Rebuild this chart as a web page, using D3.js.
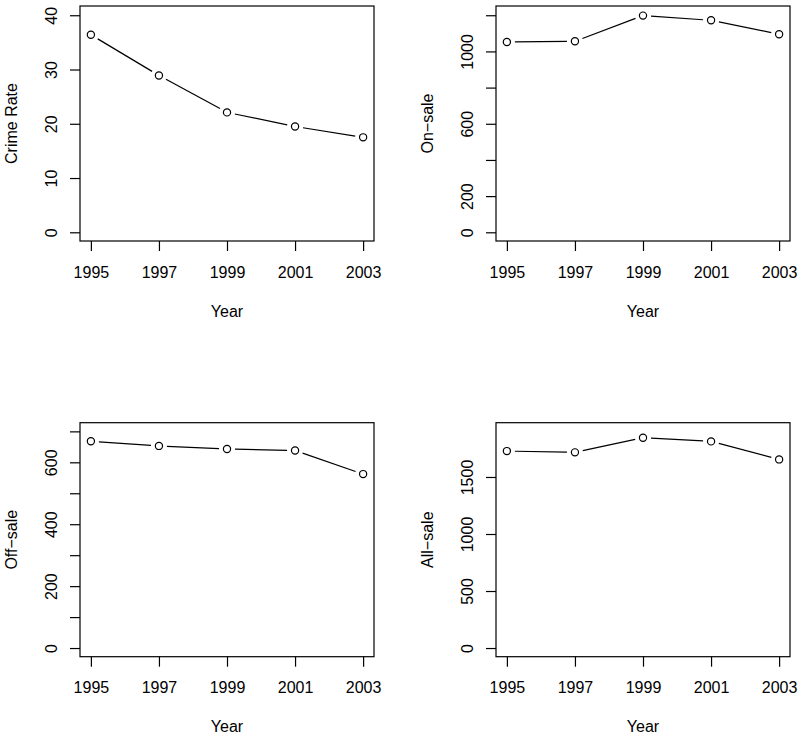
<!DOCTYPE html>
<html>
<head>
<meta charset="utf-8">
<script src="https://cdn.jsdelivr.net/npm/d3@7"></script>
<style>
  html, body { margin: 0; padding: 0; background: #fff; }
  svg { display: block; font-family: "Liberation Sans", Arial, Helvetica, sans-serif; }
</style>
</head>
<body>
<svg id="chart" width="800" height="737"></svg>
<script>
// ---- data ----
const years = [1995, 1997, 1999, 2001, 2003];
const crimeRate = [36.4, 28.9, 22.1, 19.5, 17.5];
const onSale = [1052, 1056, 1198, 1172, 1095];
const offSale = [668, 653, 643, 638, 562];
const allSale = [1727, 1716, 1844, 1812, 1654];

const xLabel = "Year";
const yLabels = ["Crime Rate", "On\u2212sale", "Off\u2212sale", "All\u2212sale"];
const yLimits = [40.1, 1203, 700, 1900];
const yTicks = [
  [0, 10, 20, 30, 40],
  [0, 200, 400, 600, 800, 1000, 1200],
  [0, 100, 200, 300, 400, 500, 600, 700],
  [0, 500, 1000, 1500]
];
const yTickLabels = [
  ["0", "10", "20", "30", "40"],
  ["0", "200", "", "600", "", "1000", ""],
  ["0", "", "200", "", "400", "", "600", ""],
  ["0", "500", "1000", "1500"]
];
const seriesList = [crimeRate, onSale, offSale, allSale];

// ---- layout ----
const boxes = [
  { x0: 80, x1: 374, y0: 6, y1: 241 },
  { x0: 496, x1: 790, y0: 6, y1: 241 },
  { x0: 80, x1: 374, y0: 422.7, y1: 656.7 },
  { x0: 496, x1: 790, y0: 422.7, y1: 656.7 }
];

const svg = d3.select("#chart");
const fontSize = 16;
const gap = 8;

boxes.forEach((b, i) => {
  const g = svg.append("g");
  const xr = years[years.length - 1] - years[0];
  const x = d3.scaleLinear()
    .domain([years[0] - 0.04 * xr, years[years.length - 1] + 0.04 * xr])
    .range([b.x0, b.x1]);
  const L = yLimits[i];
  const y = d3.scaleLinear()
    .domain([-0.04 * L, 1.04 * L])
    .range([b.y1, b.y0]);

  // x axis
  const xa = g.append("g")
    .attr("transform", `translate(0,${b.y1})`)
    .call(d3.axisBottom(x).tickValues(years).tickFormat(d3.format("d")).tickSize(10).tickSizeOuter(0));
  xa.select(".domain").remove();
  xa.selectAll(".tick line").attr("stroke", "#000").attr("stroke-width", 1.2);
  xa.selectAll(".tick text")
    .attr("y", 36.7).attr("dy", 0)
    .attr("fill", "#000")
    .style("font-size", fontSize + "px")
    .style("font-family", '"Liberation Sans", Arial, sans-serif');

  // y axis
  const labs = yTickLabels[i];
  const tv = yTicks[i];
  const ya = g.append("g")
    .attr("transform", `translate(${b.x0},0)`)
    .call(d3.axisLeft(y).tickValues(tv).tickFormat((d, k) => labs[k]).tickSize(10).tickSizeOuter(0));
  ya.select(".domain").remove();
  ya.selectAll(".tick line").attr("stroke", "#000").attr("stroke-width", 1.2);
  ya.selectAll(".tick text")
    .attr("transform", "rotate(-90)")
    .attr("x", 0).attr("y", -23.3).attr("dy", 0)
    .attr("text-anchor", "middle")
    .attr("fill", "#000")
    .style("font-size", fontSize + "px")
    .style("font-family", '"Liberation Sans", Arial, sans-serif');

  // box
  g.append("rect")
    .attr("x", b.x0).attr("y", b.y0)
    .attr("width", b.x1 - b.x0).attr("height", b.y1 - b.y0)
    .attr("fill", "none").attr("stroke", "#000").attr("stroke-width", 1.2);

  // axis titles
  g.append("text")
    .attr("x", (b.x0 + b.x1) / 2)
    .attr("y", b.y1 + 75.7)
    .attr("text-anchor", "middle")
    .style("font-size", fontSize + "px")
    .text(xLabel);
  g.append("text")
    .attr("transform", `translate(${b.x0 - 63.3},${(b.y0 + b.y1) / 2}) rotate(-90)`)
    .attr("text-anchor", "middle")
    .style("font-size", fontSize + "px")
    .text(yLabels[i]);

  // series: lines with gaps (type = "b") and open circles
  const vals = seriesList[i];
  const pts = years.map((yr, k) => [x(yr), y(vals[k])]);
  const segs = d3.pairs(pts);
  g.selectAll("line.seg").data(segs).enter().append("line")
    .attr("class", "seg")
    .each(function (d) {
      const [[ax, ay], [bx, by]] = d;
      const len = Math.hypot(bx - ax, by - ay);
      const ux = (bx - ax) / len, uy = (by - ay) / len;
      d3.select(this)
        .attr("x1", ax + ux * gap).attr("y1", ay + uy * gap)
        .attr("x2", bx - ux * gap).attr("y2", by - uy * gap);
    })
    .attr("stroke", "#000").attr("stroke-width", 1.2);
  g.selectAll("circle.pt").data(pts).enter().append("circle")
    .attr("class", "pt")
    .attr("cx", d => d[0]).attr("cy", d => d[1])
    .attr("r", 3.6)
    .attr("fill", "none").attr("stroke", "#000").attr("stroke-width", 1.2);
});
</script>
</body>
</html>
